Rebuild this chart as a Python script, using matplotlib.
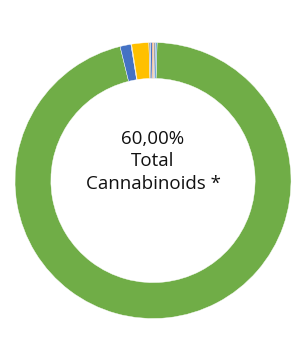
import matplotlib
matplotlib.use("Agg")
import matplotlib.pyplot as plt

# slices clockwise, starting where the big green slice begins (just right of 12 o'clock)
labels = ["Total Cannabinoids", "B", "C", "D", "E", "F", "G", "H", "I"]
values = [95.7, 1.28, 0.08, 2.0, 0.19, 0.19, 0.19, 0.19, 0.19]
colors = ["#70AD47", "#4472C4", "#A5A5A5", "#FFC000", "#A5A5A5",
          "#4472C4", "#ED7D31", "#A5A5A5", "#5B9BD5"]
center_text = "60,00%\nTotal\nCannabinoids *"

fig = plt.figure(figsize=(3.02, 3.58), dpi=100)
ax = fig.add_axes([15 / 302, 39.5 / 358, 276 / 302, 276 / 358])
ax.pie(values, colors=colors, startangle=88.3, counterclock=False,
       radius=1, wedgeprops=dict(width=0.26, edgecolor="white", linewidth=0.3))
ax.set_xlim(-1, 1)
ax.set_ylim(-1, 1)
ax.text(0, 0.14, center_text, ha="center", va="center", fontsize=13.5,
        family="Open Sans", linespacing=1.32, color="#111111")
ax.axis("off")

fig.savefig("out.png", dpi=100)
